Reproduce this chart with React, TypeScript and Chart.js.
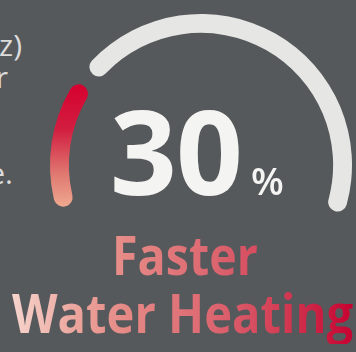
import React, { useEffect, useRef } from "react";
import { Chart, registerables } from "chart.js";

Chart.register(...registerables);

// Gauge segments in degrees (starting at the gauge's lower-left end, clockwise)
const segmentLabels = ["Faster heating", "gap", "Remaining scale", "hidden"];
const segmentValues = [51, 6, 159, 144];
const gaugeRotation = -107;
const headline = "30";
const headlineUnit = "%";
const captionLines = ["Faster", "Water Heating"];
const sideTexts = ["z)", "r", "e."];

const BG = "#56595c";
const CAPTION_GRADIENT =
  "linear-gradient(90deg, #f8ddd5 0%, #eba39b 22%, #e68a86 35%, #dc6670 60%, #d33f56 78%, #c6002f 100%)";

export default function App() {
  const ref = useRef<HTMLCanvasElement | null>(null);

  useEffect(() => {
    document.body.style.margin = "0";
    const canvas = ref.current;
    if (!canvas) return;
    const chart = new Chart(canvas, {
      type: "doughnut",
      data: {
        labels: segmentLabels,
        datasets: [
          {
            data: segmentValues,
            backgroundColor: (c: any) => {
              const i = c.dataIndex;
              if (i === 0) {
                const g = c.chart.ctx.createLinearGradient(0, 84, 0, 214);
                g.addColorStop(0, "#d6002f");
                g.addColorStop(0.35, "#d21e40");
                g.addColorStop(0.7, "#e07a72");
                g.addColorStop(1, "#f2b396");
                return g;
              }
              if (i === 2) return "#e6e6e4";
              return "rgba(0,0,0,0)";
            },
            borderWidth: 0,
            borderRadius: 10,
          },
        ],
      },
      options: {
        animation: false,
        responsive: false,
        events: [],
        rotation: gaugeRotation,
        circumference: 360,
        cutout: "87.5%",
        layout: { padding: { left: 49, top: 14, right: 3, bottom: 36 } },
        plugins: { legend: { display: false }, tooltip: { enabled: false } },
      },
    });
    return () => chart.destroy();
  }, []);

  const side: React.CSSProperties = {
    position: "absolute",
    right: 334,
    fontFamily: "'Open Sans', sans-serif",
    fontSize: 30,
    lineHeight: "30px",
    color: "#dcdcdc",
    whiteSpace: "nowrap",
  };

  const caption = (left: number, top: number, scale: number, text: string) => (
    <div
      style={{
        position: "absolute",
        left,
        top,
        width: (376 - left) / scale,
        fontFamily: "'Open Sans', sans-serif",
        fontWeight: 700,
        fontSize: 53,
        lineHeight: "62px",
        whiteSpace: "nowrap",
        transform: `scaleX(${scale})`,
        transformOrigin: "0 0",
        backgroundImage: CAPTION_GRADIENT,
        backgroundSize: `${356 / scale}px 100%`,
        backgroundPosition: `${-left / scale}px 0px`,
        backgroundRepeat: "no-repeat",
        backgroundColor: "#c6002f",
        WebkitBackgroundClip: "text",
        backgroundClip: "text",
        color: "transparent",
        WebkitTextFillColor: "transparent",
      }}
    >
      {text}
    </div>
  );

  return (
    <div
      style={{
        position: "fixed",
        left: 0,
        top: 0,
        width: 356,
        height: 352,
        background: BG,
        overflow: "hidden",
      }}
    >
      <div style={{ ...side, top: 30 }}>{sideTexts[0]}</div>
      <div style={{ ...side, top: 62, right: 348 }}>{sideTexts[1]}</div>
      <div style={{ ...side, top: 158, right: 343 }}>{sideTexts[2]}</div>
      <canvas
        ref={ref}
        width={356}
        height={352}
        style={{ position: "absolute", left: 0, top: 0, width: 356, height: 352 }}
      />
      <div
        style={{
          position: "absolute",
          left: 110,
          top: 91,
          fontFamily: "'Open Sans', sans-serif",
          fontWeight: 700,
          fontSize: 117,
          lineHeight: "117px",
          color: "#f4f4f2",
          whiteSpace: "nowrap",
          letterSpacing: -1,
        }}
      >
        {headline}
      </div>
      <div
        style={{
          position: "absolute",
          left: 251,
          top: 161,
          fontFamily: "'Open Sans', sans-serif",
          fontWeight: 600,
          fontSize: 38,
          lineHeight: "38px",
          color: "#f4f4f2",
        }}
      >
        {headlineUnit}
      </div>
      {caption(112, 224, 0.88, captionLines[0])}
      {caption(12, 282, 0.89, captionLines[1])}
    </div>
  );
}
